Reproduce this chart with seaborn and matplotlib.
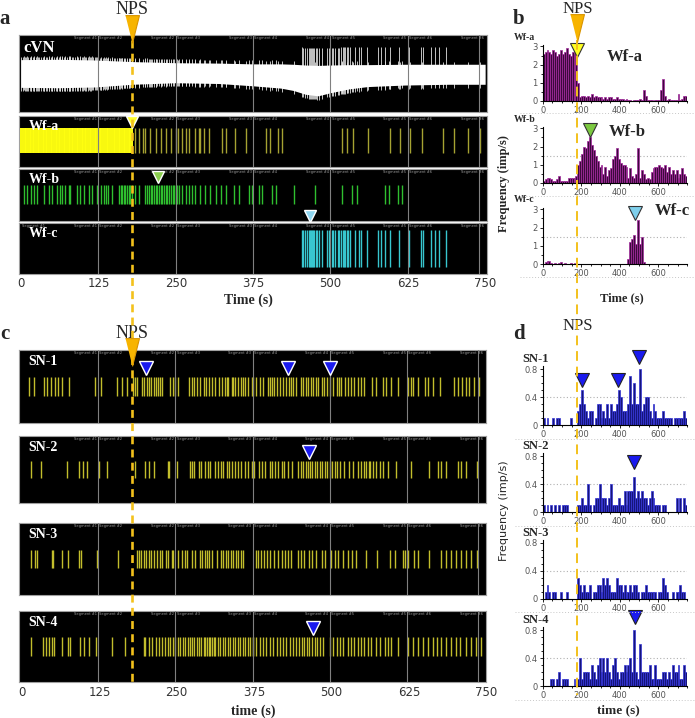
import numpy as np
import pandas as pd
import matplotlib
matplotlib.use("Agg")
import matplotlib.pyplot as plt
from matplotlib.lines import Line2D
from matplotlib.ticker import MultipleLocator
import seaborn as sns

# ---------------- data ----------------
NPS = 180  # stimulus time (s)
bin_starts = np.arange(0, 750, 10)  # 10 s bins, 0-750 s

# panel b: firing frequency per 10 s bin (imp/s)
wfa_rate = [2.6, 2.7, 2.8, 2.7, 2.6, 2.8, 2.7, 2.5, 2.6, 2.8, 2.6, 2.7, 2.9, 2.6, 2.5,
            2.7, 2.6, 2.8, 1.0, 0.2, 0.3, 0.3, 0.2, 0.3, 0.2, 0.4, 0.2, 0.3, 0.2, 0.2,
            0.2, 0.1, 0.2, 0.1, 0.2, 0.2, 0.1, 0.1, 0.2, 0.1, 0.1, 0.1, 0.05, 0.1, 0.05,
            0.05, 0.0, 0.05, 0.05, 0.05, 0.1, 0.05, 0.6, 0.3, 0.05, 0.05, 0.05, 0.0, 0.05, 0.05,
            0.05, 0.6, 1.2, 0.3, 0.05, 0.1, 0.05, 0.05, 0.05, 0.05, 0.4, 0.05, 0.1, 0.3, 0.3]
wfb_rate = [0.1, 0.2, 0.3, 0.3, 0.2, 0.1, 0.1, 0.2, 0.4, 0.1, 0.1, 0.1, 0.1, 0.3, 0.3,
            0.3, 0.3, 0.4, 1.0, 1.2, 1.6, 2.0, 1.9, 2.3, 2.5, 2.1, 1.8, 1.5, 1.2, 0.9,
            1.0, 0.5, 0.9, 0.4, 0.7, 0.8, 1.3, 1.5, 1.9, 1.3, 1.1, 1.0, 1.0, 0.9, 0.3,
            0.8, 0.4, 0.3, 0.5, 1.9, 0.3, 0.7, 0.5, 0.2, 0.3, 0.2, 0.6, 0.8, 0.9, 0.9,
            1.0, 0.9, 0.8, 1.0, 0.6, 0.9, 0.5, 0.7, 0.5, 0.7, 0.3, 0.5, 0.8, 0.5, 0.4]
wfc_rate = [0.02, 0.1, 0.15, 0.15, 0.05, 0.02, 0.05, 0.02, 0.05, 0.1, 0.02, 0.05, 0.02, 0.02, 0.05,
            0.02, 0.05, 0.02, 0.02, 0.0, 0.02, 0.0, 0.0, 0.02, 0.0, 0.0, 0.02, 0.0, 0.0, 0.02,
            0.0, 0.0, 0.0, 0.02, 0.0, 0.0, 0.0, 0.0, 0.02, 0.0, 0.0, 0.0, 0.0, 0.02, 0.3,
            1.2, 1.4, 1.6, 1.1, 2.4, 1.1, 1.5, 0.1, 0.02, 0.0, 0.0, 0.02, 0.0, 0.0, 0.0,
            0.0, 0.02, 0.0, 0.0, 0.0, 0.0, 0.02, 0.0, 0.0, 0.0, 0.0, 0.0, 0.02, 0.0, 0.0]

# panel d: firing frequency per 10 s bin (imp/s)
sn1_rate = [0.1, 0, 0.1, 0, 0, 0.1, 0, 0.1, 0.1, 0, 0, 0, 0, 0, 0.1, 0, 0, 0, 0.2, 0.3,
            0.5, 0.3, 0.2, 0.1, 0.2, 0.2, 0, 0.1, 0.3, 0.3, 0.1, 0.2, 0.1, 0.3, 0.1, 0.3, 0.2, 0.2,
            0.3, 0.5, 0.4, 0.2, 0.2, 0.2, 0.3, 0.7, 0.3, 0.6, 0.3, 0.3, 0.8, 0.2, 0.3, 0.4, 0.4,
            0.2, 0.1, 0.3, 0.2, 0.1, 0.1, 0.1, 0.2, 0.1, 0.1, 0.1, 0.1, 0, 0.1, 0.1, 0.1, 0.1,
            0.1, 0.2, 0.1]
sn2_rate = [0.1, 0, 0.1, 0, 0.1, 0, 0.1, 0, 0.1, 0, 0.1, 0.1, 0.1, 0, 0, 0, 0, 0, 0.1, 0.1,
            0.2, 0.1, 0.1, 0.4, 0.1, 0, 0.1, 0.2, 0.2, 0.4, 0.2, 0.2, 0.2, 0.1, 0.2, 0.4, 0.1, 0.1,
            0.1, 0.2, 0.1, 0.1, 0.3, 0.1, 0.3, 0.3, 0.3, 0.5, 0.2, 0.3, 0.2, 0.3, 0.2, 0.2, 0.1,
            0.2, 0.3, 0.2, 0.1, 0.1, 0.1, 0, 0.1, 0.1, 0, 0, 0, 0, 0, 0.2, 0, 0.2, 0, 0.2, 0.1]
sn3_rate = [0, 0.1, 0.2, 0.1, 0, 0.1, 0.1, 0, 0, 0.1, 0, 0, 0.1, 0, 0, 0, 0, 0, 0.3, 0.2,
            0.1, 0.2, 0.1, 0.1, 0.2, 0, 0.1, 0.1, 0.2, 0.2, 0.1, 0.3, 0.2, 0.3, 0.2, 0.1, 0.1, 0.1,
            0.3, 0.2, 0.2, 0.1, 0.2, 0.1, 0.1, 0.2, 0.1, 0.2, 0.2, 0.1, 0, 0.1, 0.1, 0.2, 0.1,
            0.1, 0.1, 0.1, 0.1, 0, 0.1, 0.1, 0.3, 0.2, 0.1, 0, 0, 0.1, 0, 0.1, 0.1, 0.2, 0.1, 0.1, 0]
sn4_rate = [0, 0, 0, 0, 0.1, 0.1, 0, 0.1, 0.2, 0, 0.1, 0.1, 0.1, 0, 0, 0, 0.1, 0, 0.1, 0.4,
            0.1, 0.2, 0.2, 0.2, 0.1, 0.3, 0.2, 0.1, 0.3, 0.4, 0.2, 0.4, 0.2, 0.4, 0.2, 0.1, 0.3, 0.4,
            0.2, 0.1, 0.2, 0.2, 0.3, 0.2, 0.3, 0.4, 0.2, 0.8, 0.2, 0.1, 0.6, 0.2, 0.2, 0.2, 0.2,
            0.3, 0.1, 0.1, 0.3, 0.1, 0.1, 0.1, 0.2, 0.2, 0.1, 0.2, 0.1, 0.3, 0.2, 0.2, 0.3, 0.1,
            0.1, 0.3, 0.2]

# spike times (s) seen in the raster panels
wfa_spikes = [1, 4, 6, 9, 11, 14, 16, 19, 22, 24, 27, 30, 32, 35, 37, 40, 43, 45, 48, 50, 53,
              56, 58, 61, 64, 66, 69, 71, 74, 77, 80, 82, 85, 88, 90, 93, 95, 98, 101, 104, 106,
              109, 112, 114, 117, 120, 122, 125, 128, 130, 133, 136, 139, 141, 144, 147, 150,
              152, 155, 158, 160, 163, 166, 169, 171, 174, 177, 179,
              185, 191, 197, 201, 208, 218, 226, 234, 242, 250, 254, 261, 266, 272, 282, 288,
              290, 296, 304, 325, 331, 346, 363, 396, 402, 415, 422, 518, 527, 537, 561, 596,
              613, 629, 648, 682, 699, 723, 742]
wfb_spikes = [5, 10, 16, 21, 26, 37, 45, 51, 59, 64, 67, 72, 78, 80, 91, 96, 102, 110, 115,
              123, 129, 134, 137, 140, 148, 158, 161, 164, 166, 169, 172, 175, 177, 180, 185,
              191, 201, 204, 207, 210, 212, 215, 218, 220, 223, 226, 228, 231, 234, 236, 239,
              242, 245, 247, 250, 253, 255, 261, 266, 272, 277, 282, 290, 298, 306, 315, 323,
              331, 344, 352, 368, 374, 384, 389, 405, 412, 441, 475, 519, 535, 543, 589, 594,
              610, 616]
wfc_spikes = [454, 456, 459, 462, 465, 467, 468, 470, 472, 473, 476, 478, 481, 487, 495, 498,
              502, 505, 508, 512, 514, 517, 520, 522, 524, 527, 529, 532, 540, 546, 550, 559,
              577, 581, 589, 597, 611, 627, 646, 649, 662, 669, 676, 686]
sn1_spikes = [13, 21, 37, 43, 49, 55, 60, 66, 78, 120, 129, 156, 164, 172, 181, 184, 188, 196,
              200, 204, 207, 211, 215, 218, 222, 226, 229, 242, 246, 249, 255, 272, 277, 281,
              285, 290, 296, 299, 305, 309, 315, 320, 325, 331, 333, 336, 342, 344, 347, 352,
              357, 360, 363, 368, 374, 376, 381, 387, 392, 400, 403, 406, 410, 415, 419, 424,
              430, 434, 437, 441, 446, 453, 457, 461, 465, 469, 473, 477, 481, 487, 491, 496,
              501, 505, 511, 515, 519, 524, 529, 535, 540, 546, 551, 556, 568, 575, 586, 591,
              599, 611, 627, 631, 635, 643, 654, 659, 667, 678, 702, 707, 714, 721, 726, 734, 742]
sn2_spikes = [17, 32, 75, 94, 100, 107, 126, 139, 185, 201, 208, 215, 238, 240, 253, 274, 277,
              281, 288, 292, 298, 303, 306, 315, 319, 324, 328, 333, 337, 342, 347, 352, 357,
              363, 368, 374, 377, 385, 390, 396, 403, 406, 412, 416, 422, 426, 433, 439, 449,
              453, 457, 461, 465, 468, 471, 476, 480, 484, 487, 492, 496, 500, 504, 508, 512,
              516, 523, 532, 538, 546, 551, 555, 559, 563, 566, 570, 575, 581, 586, 594, 607,
              632, 661, 675, 680, 688, 707, 713, 721, 739]
sn3_spikes = [16, 23, 26, 50, 52, 67, 76, 94, 97, 123, 157, 188, 191, 195, 199, 203, 207, 210,
              215, 220, 226, 229, 235, 239, 244, 247, 254, 261, 265, 269, 277, 282, 290, 294,
              298, 301, 305, 309, 317, 324, 328, 332, 336, 340, 344, 348, 352, 357, 360, 380,
              384, 388, 394, 399, 404, 410, 416, 422, 427, 433, 438, 449, 454, 459, 466, 471,
              478, 487, 492, 502, 508, 514, 521, 529, 536, 543, 559, 577, 597, 606, 618, 622,
              627, 636, 643, 661, 680, 688, 696, 704, 713, 721, 729, 738]
sn4_spikes = [16, 36, 41, 45, 50, 53, 66, 76, 80, 96, 103, 110, 121, 148, 168, 199, 201, 207,
              212, 218, 223, 228, 233, 238, 242, 246, 250, 254, 258, 262, 266, 270, 274, 277,
              281, 285, 289, 292, 296, 298, 301, 304, 307, 309, 312, 315, 319, 323, 327, 331,
              335, 339, 343, 347, 351, 355, 359, 363, 367, 371, 375, 376, 381, 387, 392, 397,
              403, 408, 414, 419, 424, 430, 435, 441, 446, 451, 455, 459, 464, 467, 471, 476,
              480, 484, 489, 500, 505, 511, 516, 521, 529, 535, 540, 546, 551, 556, 562, 567,
              575, 581, 589, 594, 599, 611, 627, 635, 643, 651, 659, 667, 673, 680, 688, 696,
              704, 711, 721, 729, 737, 745]

# cVN raw trace: envelope of the white noise band (relative units)
cvn_t = [0, 60, 120, 180, 250, 320, 375, 420, 440, 460, 480, 500, 530, 560, 620, 690, 750]
cvn_hi = [0.36, 0.37, 0.35, 0.31, 0.28, 0.27, 0.25, 0.25, 0.24, 0.22, 0.21, 0.22, 0.23, 0.23,
          0.24, 0.24, 0.24]
cvn_lo = [-0.36, -0.37, -0.35, -0.28, -0.24, -0.26, -0.32, -0.38, -0.44, -0.54, -0.58, -0.50,
          -0.40, -0.34, -0.30, -0.28, -0.28]

# event markers (s)
wf_marks = {"Wf-a": 180, "Wf-b": 222, "Wf-c": 467}
sn_marks = {"SN-1": [202, 433, 500], "SN-2": [467], "SN-4": [473]}
hist_marks_b = {"Wf-a": (180, 2.8), "Wf-b": (243, 2.9), "Wf-c": (481, 2.8)}
hist_marks_d = {"SN-1": [(205, 0.64), (393, 0.64), (502, 0.97)], "SN-2": [(476, 0.72)],
                "SN-4": [(481, 0.98)]}
raster_ticks = [0, 125, 250, 375, 500, 625, 750]

# ---------------- figure ----------------
sns.set_theme(style="white")
plt.rcParams["font.family"] = ["DejaVu Sans"]
SERIF = "Liberation Serif"

W, H = 695, 718
fig = plt.figure(figsize=(W / 100, H / 100), dpi=100)
fig.patch.set_facecolor("white")


def px_axes(x0, y0, x1, y1):
    return fig.add_axes([x0 / W, 1 - y1 / H, (x1 - x0) / W, (y1 - y0) / H])


def ftext(x, y, s, **kw):
    fig.text(x / W, 1 - y / H, s, **kw)


def hline_px(x0, x1, y, **kw):
    fig.add_artist(Line2D([x0 / W, x1 / W], [1 - y / H, 1 - y / H],
                          transform=fig.transFigure, **kw))


XL = (-3, 753)
seg_col = "#9a9a9a"


def raster_box(box, label, first_seg=False):
    ax = px_axes(*box)
    ax.set_facecolor("black")
    ax.set_xlim(XL)
    ax.set_ylim(0, 1)
    ax.set_xticks([])
    ax.set_yticks([])
    for s in ax.spines.values():
        s.set_color("#a0a0a0")
        s.set_linewidth(0.8)
    for k, g in enumerate(raster_ticks[1:-1], start=1):
        ax.axvline(g, color="#808080", lw=0.8, zorder=4)
        ax.text(g - 2, 0.985, f"Segment #{k}", ha="right", va="top", fontsize=2.6,
                color=seg_col)
        ax.text(g + 2, 0.985, f"Segment #{k + 1}", ha="left", va="top", fontsize=2.6,
                color=seg_col)
    ax.axvline(740, color="#808080", lw=0.8, zorder=4)
    ax.text(748, 0.985, "Segment #6", ha="right", va="top", fontsize=2.6, color=seg_col)
    if first_seg:
        ax.text(2, 0.985, "Segment #1", ha="left", va="top", fontsize=2.6, color=seg_col)
    ax.text(0.02, 0.93, label, transform=ax.transAxes, ha="left", va="top", color="white",
            fontsize=10, fontweight="bold", family=SERIF, zorder=8)
    return ax


def spikes(ax, times, lo, hi, color, lw=1.0, color_pre=None):
    t = np.asarray(times, dtype=float)
    if color_pre is None:
        ax.vlines(t, lo, hi, color=color, lw=lw, zorder=3)
    else:
        ax.vlines(t[t < NPS], lo, hi, color=color_pre, lw=1.4, zorder=3)
        ax.vlines(t[t >= NPS], lo, hi, color=color, lw=lw, zorder=3)


def tri(ax, x, y, color, size=9, edge="white", ew=1.0):
    ax.plot([x], [y], marker="v", ms=size, color=color, mec=edge, mew=ew,
            clip_on=False, zorder=6, ls="none")


# ---- panel a ----
ax_cvn = raster_box((19, 35, 487, 112), "")
ax_cvn.set_ylim(-1, 1)
ax_cvn.text(0.01, 0.93, "cVN", transform=ax_cvn.transAxes, ha="left", va="top",
            color="white", fontsize=12, fontweight="bold", family=SERIF, zorder=8)
ax_cvn.fill_between(cvn_t, cvn_lo, cvn_hi, color="white", lw=0, zorder=3)
for times, up, dn in [(wfa_spikes, 0.07, 0.09), (wfb_spikes, 0.09, 0.08),
                      (wfc_spikes, 0.45, 0.10)]:
    t = np.asarray(times, dtype=float)
    ax_cvn.vlines(t, np.interp(t, cvn_t, cvn_lo) - dn, np.interp(t, cvn_t, cvn_hi) + up,
                  color="#e2e2e2", lw=0.6, zorder=2)

ax_wfa = raster_box((19, 116, 487, 167), "Wf-a")
spikes(ax_wfa, wfa_spikes, 0.28, 0.76, "#a5a232", color_pre="#ffff10")
tri(ax_wfa, wf_marks["Wf-a"], 0.88, "#ffff30")

ax_wfb = raster_box((19, 169, 487, 221), "Wf-b")
spikes(ax_wfb, wfb_spikes, 0.33, 0.70, "#2fbf2f")
tri(ax_wfb, wf_marks["Wf-b"], 0.85, "#8ccf50")
tri(ax_wfb, wf_marks["Wf-c"], 0.10, "#8fd6f0")

ax_wfc = raster_box((19, 223, 487, 274), "Wf-c", first_seg=True)
spikes(ax_wfc, wfc_spikes, 0.13, 0.86, "#38c6cf")
for t in raster_ticks:
    ftext(21 + t * 0.619, 283, str(t), ha="center", va="center", fontsize=8.5, color="#333333")
ftext(248, 300, "Time (s)", ha="center", va="center", fontsize=10, fontweight="bold",
      family=SERIF)

# ---- panel c ----
sn_boxes = [(19, 350, 486, 423), (19, 436, 486, 503), (19, 523, 486, 595), (19, 611, 486, 682)]
sn_lists = [sn1_spikes, sn2_spikes, sn3_spikes, sn4_spikes]
for i, (box, sp) in enumerate(zip(sn_boxes, sn_lists)):
    name = f"SN-{i + 1}"
    ax = raster_box(box, name)
    spikes(ax, sp, 0.37, 0.63, "#c2bd2c")
    for t in sn_marks.get(name, []):
        tri(ax, t, 0.76, "#1a1aee", size=10)
for t in raster_ticks:
    ftext(22 + t * 0.619, 693, str(t), ha="center", va="center", fontsize=8.5, color="#333333")
ftext(253, 711, "time (s)", ha="center", va="center", fontsize=10, fontweight="bold",
      family=SERIF)


# ---- histogram panels b and d ----
def hist_axes(zero_px, unit_px, ytop, data, color, edge, yt, ytl, minor):
    top_px = zero_px - ytop * unit_px
    ax = px_axes(542.7, top_px, 687.2, zero_px)
    ax.set_facecolor("none")
    df = pd.DataFrame({"t": bin_starts + 5, "rate": data})
    sns.histplot(data=df, x="t", weights="rate", binwidth=10, binrange=(0, 750),
                 color=color, edgecolor=edge, linewidth=0.5, alpha=1, ax=ax)
    ax.set_xlim(0, 750)
    ax.set_ylim(0, ytop)
    ax.set_xlabel("")
    ax.set_ylabel("")
    ax.set_xticks([0, 200, 400, 600])
    ax.xaxis.set_minor_locator(MultipleLocator(50))
    ax.set_yticks(yt)
    ax.set_yticklabels(ytl)
    ax.yaxis.set_minor_locator(MultipleLocator(minor))
    ax.tick_params(which="both", direction="out", color="black", labelcolor="#555555",
                   labelsize=6, width=0.6, pad=1, bottom=True, left=True)
    ax.tick_params(which="major", length=2.5)
    ax.tick_params(which="minor", length=1.5)
    sns.despine(ax=ax)
    for s in ("left", "bottom"):
        ax.spines[s].set_color("black")
        ax.spines[s].set_linewidth(0.8)
    return ax


b_rates = {"Wf-a": wfa_rate, "Wf-b": wfb_rate, "Wf-c": wfc_rate}
b_zero = {"Wf-a": 101, "Wf-b": 183, "Wf-c": 264}
b_tri_col = {"Wf-a": "#ffff20", "Wf-b": "#7cc940", "Wf-c": "#7fd0ec"}
for name, rate in b_rates.items():
    ax = hist_axes(b_zero[name], 18.2, 3.1, rate, "#3c0a3c", "#a4289e",
                   [0, 1, 2, 3], ["0", "1", "2", "3"], 0.5)
    if name != "Wf-a":
        ax.axhline(1.5, color="#b0b0b0", lw=0.8, ls=(0, (1, 2)), zorder=0)
    x, y = hist_marks_b[name]
    tri(ax, x, y, b_tri_col[name], size=10, edge="#333333", ew=0.8)
    ftext(514, b_zero[name] - 64, name, ha="left", va="center", fontsize=7,
          fontweight="bold", family=SERIF)
ftext(625, 57, "Wf-a", ha="center", va="center", fontsize=12, fontweight="bold", family=SERIF)
ftext(627, 132, "Wf-b", ha="center", va="center", fontsize=12, fontweight="bold", family=SERIF)
ftext(672, 211, "Wf-c", ha="center", va="center", fontsize=12, fontweight="bold", family=SERIF)
for y in (113, 196, 277):
    hline_px(520, 695, y, color="#c8c8c8", lw=0.7, ls=(0, (1, 2)))
ftext(504, 184, "Frequency (imp/s)", rotation=90, ha="center", va="center", fontsize=9,
      fontweight="bold", family=SERIF)
ftext(622, 298, "Time (s)", ha="center", va="center", fontsize=9, fontweight="bold",
      family=SERIF)

d_rates = {"SN-1": sn1_rate, "SN-2": sn2_rate, "SN-3": sn3_rate, "SN-4": sn4_rate}
d_zero = {"SN-1": 425, "SN-2": 512, "SN-3": 599, "SN-4": 686}
for name, rate in d_rates.items():
    ax = hist_axes(d_zero[name], 70, 0.85, rate, "#15157a", "#3434d8",
                   [0, 0.4, 0.8], ["0", "0.4", "0.8"], 0.1)
    ax.axhline(0.4, color="#b0b0b0", lw=0.8, ls=(0, (1, 2)), zorder=0)
    for x, y in hist_marks_d.get(name, []):
        tri(ax, x, y, "#1a1aee", size=10, edge="#222222", ew=0.8)
    ftext(522, d_zero[name] - 66, name, ha="left", va="center", fontsize=9,
          fontweight="bold", family=SERIF)
for y in (439, 526, 612, 700):
    hline_px(515, 695, y, color="#c8c8c8", lw=0.7, ls=(0, (1, 2)))
ftext(504, 511, "Frequency (imp/s)", rotation=90, ha="center", va="center", fontsize=8)
ftext(618, 710, "time (s)", ha="center", va="center", fontsize=9.5, fontweight="bold",
      family=SERIF)

# ---- overlays: NPS dashed line + markers ----
NPS_MARK = [(-1, 2), (1, 2), (0, -2)]
ov_ac = px_axes(19, 0, 487, H)
ov_ac.set_xlim(XL)
ov_ac.set_ylim(H, 0)
ov_ac.axis("off")
ov_ac.plot([NPS, NPS], [40, 682], color="#f3c11c", lw=1.9, ls=(0, (3, 2)), zorder=5)
for ytxt, ymark in [(9, 29), (334, 352)]:
    ov_ac.text(NPS, ytxt, "NPS", ha="center", va="center", fontsize=13, family=SERIF)
    ov_ac.plot([NPS], [ymark], marker=NPS_MARK, ms=20, color="#f7b400", mec="#d99400",
               mew=0.8, zorder=7, clip_on=False)

ov_bd = px_axes(542.7, 0, 687.2, H)
ov_bd.set_xlim(0, 750)
ov_bd.set_ylim(H, 0)
ov_bd.axis("off")
ov_bd.plot([NPS, NPS], [40, 695], color="#f3c11c", lw=1.4, ls=(0, (5, 3)), zorder=5)
ov_bd.text(NPS, 9, "NPS", ha="center", va="center", fontsize=12, family=SERIF)
ov_bd.plot([NPS], [28], marker=NPS_MARK, ms=20, color="#f7b400", mec="#d99400", mew=0.8,
           zorder=7, clip_on=False)
ov_bd.text(NPS, 326, "NPS", ha="center", va="center", fontsize=12, family=SERIF)

# panel letters
for x, y, s in [(5, 19, "a"), (519, 19, "b"), (5, 334, "c"), (519, 334, "d")]:
    ftext(x, y, s, ha="center", va="center", fontsize=15, fontweight="bold", family=SERIF)

fig.savefig("out.png", dpi=100)
